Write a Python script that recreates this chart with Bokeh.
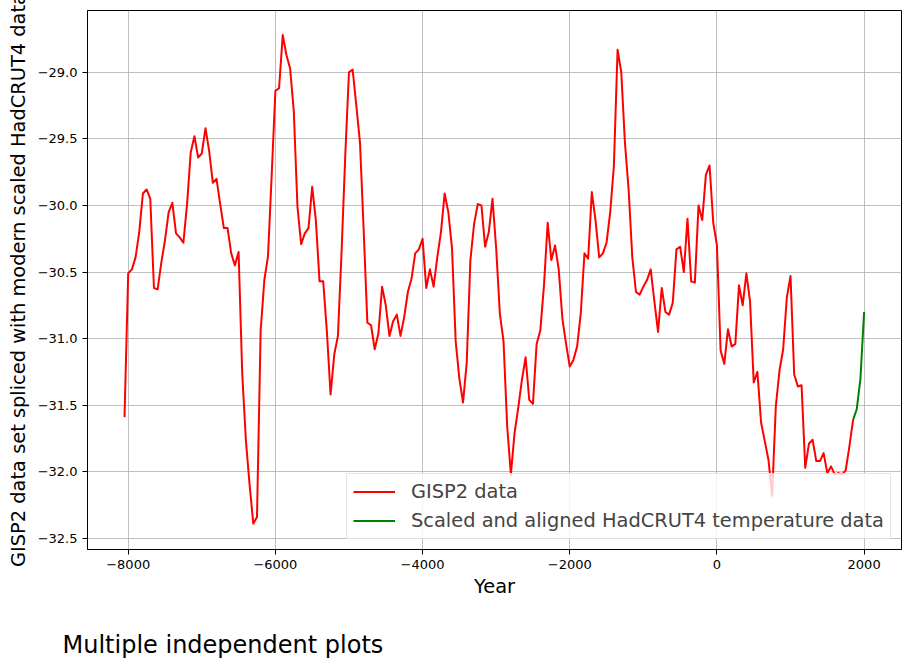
from bokeh.plotting import figure
from bokeh.models import (Range1d, FixedTicker, CustomJSTickFormatter, Legend,
                          LegendItem, Label)
from bokeh.embed import file_html
from bokeh.resources import INLINE

# ---------------- data ----------------
gisp2_years = [
    -8050, -8000, -7950, -7900, -7850, -7800, -7750, -7700, -7650, -7600,
    -7550, -7500, -7450, -7400, -7350, -7300, -7250, -7200, -7150, -7100,
    -7050, -7000, -6950, -6900, -6850, -6800, -6750, -6700, -6650, -6600,
    -6550, -6500, -6450, -6400, -6350, -6300, -6250, -6200, -6150, -6100,
    -6050, -6000, -5950, -5900, -5850, -5800, -5750, -5700, -5650, -5600,
    -5550, -5500, -5450, -5400, -5350, -5300, -5250, -5200, -5150, -5100,
    -5050, -5000, -4950, -4900, -4850, -4800, -4750, -4700, -4650, -4600,
    -4550, -4500, -4450, -4400, -4350, -4300, -4250, -4200, -4150, -4100,
    -4050, -4000, -3950, -3900, -3850, -3800, -3750, -3700, -3650, -3600,
    -3550, -3500, -3450, -3400, -3350, -3300, -3250, -3200, -3150, -3100,
    -3050, -3000, -2950, -2900, -2850, -2800, -2750, -2700, -2650, -2600,
    -2550, -2500, -2450, -2400, -2350, -2300, -2250, -2200, -2150, -2100,
    -2050, -2000, -1950, -1900, -1850, -1800, -1750, -1700, -1650, -1600,
    -1550, -1500, -1450, -1400, -1350, -1300, -1250, -1200, -1150, -1100,
    -1050, -1000, -950, -900, -850, -800, -750, -700, -650, -600,
    -550, -500, -450, -400, -350, -300, -250, -200, -150, -100,
    -50, 0, 50, 100, 150, 200, 250, 300, 350, 400,
    450, 500, 550, 600, 650, 700, 750, 800, 850, 900,
    950, 1000, 1050, 1100, 1150, 1200, 1250, 1300, 1350, 1400,
    1450, 1500, 1550, 1600, 1650, 1700, 1750, 1800, 1850,
]
gisp2_temps = [
    -31.59, -30.51, -30.48, -30.39, -30.20, -29.91, -29.88, -29.95, -30.62, -30.63,
    -30.43, -30.26, -30.05, -29.98, -30.21, -30.24, -30.28, -29.99, -29.60, -29.48,
    -29.64, -29.61, -29.42, -29.59, -29.83, -29.80, -29.99, -30.17, -30.17, -30.36,
    -30.45, -30.35, -31.27, -31.77, -32.10, -32.39, -32.34, -30.94, -30.56, -30.38,
    -29.77, -29.14, -29.12, -28.72, -28.87, -28.97, -29.29, -30.01, -30.29, -30.21,
    -30.17, -29.86, -30.11, -30.57, -30.57, -30.95, -31.42, -31.12, -30.98, -30.34,
    -29.62, -29.00, -28.98, -29.25, -29.53, -30.19, -30.88, -30.90, -31.08, -30.96,
    -30.61, -30.75, -30.98, -30.87, -30.82, -30.98, -30.84, -30.65, -30.55, -30.36,
    -30.33, -30.25, -30.62, -30.48, -30.61, -30.39, -30.20, -29.91, -30.05, -30.32,
    -31.02, -31.30, -31.48, -31.18, -30.41, -30.14, -29.99, -30.00, -30.31, -30.20,
    -29.95, -30.32, -30.81, -31.02, -31.66, -32.02, -31.71, -31.52, -31.31, -31.14,
    -31.46, -31.49, -31.04, -30.94, -30.60, -30.13, -30.41, -30.30, -30.48, -30.85,
    -31.04, -31.21, -31.16, -31.06, -30.81, -30.36, -30.40, -29.90, -30.11, -30.39,
    -30.36, -30.28, -30.05, -29.70, -28.83, -29.00, -29.53, -29.88, -30.39, -30.65,
    -30.67, -30.61, -30.56, -30.48, -30.72, -30.95, -30.62, -30.80, -30.82, -30.73,
    -30.33, -30.31, -30.50, -30.10, -30.57, -30.58, -30.00, -30.11, -29.77, -29.70,
    -30.13, -30.30, -31.09, -31.19, -30.93, -31.06, -31.04, -30.60, -30.75, -30.51,
    -30.72, -31.33, -31.25, -31.63, -31.77, -31.91, -32.18, -31.51, -31.24, -31.08,
    -30.69, -30.53, -31.27, -31.36, -31.35, -31.97, -31.79, -31.76, -31.92, -31.92,
    -31.86, -32.01, -31.96, -32.02, -32.01, -32.02, -31.99, -31.81, -31.61,
]
hadcrut_years = [1850, 1900, 1950, 2000]
hadcrut_temps = [-31.61, -31.53, -31.30, -30.80]

series_labels = ["GISP2 data", "Scaled and aligned HadCRUT4 temperature data"]
x_ticks = [-8000, -6000, -4000, -2000, 0, 2000]
y_ticks = [-32.5, -32.0, -31.5, -31.0, -30.5, -30.0, -29.5, -29.0]
x_label = "Year"
y_label = "GISP2 data set spliced with modern scaled HadCRUT4 data"
title_text = "Multiple independent plots"

FONT = "DejaVu Sans"

# ---------------- figure ----------------
p = figure(width=908, height=665, output_backend="svg", toolbar_location=None,
           x_range=Range1d(-8553, 2508), y_range=Range1d(-32.584, -28.536),
           min_border_left=87, min_border_right=7, min_border_top=10,
           min_border_bottom=116)
p.background_fill_color = "white"
p.border_fill_color = "white"
p.outline_line_color = "black"
p.outline_line_width = 1

r1 = p.line(gisp2_years, gisp2_temps, line_color="#ff0000", line_width=2,
            line_join="round")
r2 = p.line(hadcrut_years, hadcrut_temps, line_color="#008000", line_width=2,
            line_join="round")

xt = FixedTicker(ticks=x_ticks)
yt = FixedTicker(ticks=y_ticks)
p.xaxis[0].ticker = xt
p.yaxis[0].ticker = yt
p.xgrid[0].ticker = xt
p.ygrid[0].ticker = yt
p.xaxis[0].formatter = CustomJSTickFormatter(
    code="return (tick < 0 ? '\u2212' : '') + Math.abs(tick).toFixed(0);")
p.yaxis[0].formatter = CustomJSTickFormatter(
    code="return (tick < 0 ? '\u2212' : '') + Math.abs(tick).toFixed(1);")

for g in (p.xgrid[0], p.ygrid[0]):
    g.grid_line_color = "#b0b0b0"
    g.grid_line_width = 0.8

for ax in (p.xaxis[0], p.yaxis[0]):
    ax.major_label_text_font = FONT
    ax.major_label_text_font_size = "13px"
    ax.major_label_text_color = "black"
    ax.axis_label_text_font = FONT
    ax.axis_label_text_font_size = "19.4px"
    ax.axis_label_text_font_style = "normal"
    ax.axis_label_text_color = "black"
    ax.major_tick_out = 5
    ax.major_tick_in = 0
    ax.minor_tick_out = 0
    ax.minor_tick_in = 0
    ax.major_tick_line_color = "black"
    ax.axis_line_color = "black"
    ax.major_label_standoff = 5

p.xaxis[0].axis_label = x_label
p.xaxis[0].axis_label_standoff = 3
p.yaxis[0].axis_label = y_label
p.yaxis[0].axis_label_standoff = 5

legend = Legend(
    items=[LegendItem(label=series_labels[0], renderers=[r1]),
           LegendItem(label=series_labels[1], renderers=[r2])],
    location="bottom_right", margin=10, padding=6, spacing=6,
    glyph_width=42, glyph_height=23, label_height=23, label_standoff=16,
    label_text_font=FONT, label_text_font_size="19.4px",
    border_line_color="#cccccc", border_line_width=1,
    background_fill_color="white", background_fill_alpha=0.8)
p.add_layout(legend)

# figure caption under the x axis (in the below panel, screen units)
title = Label(x=-25, y=-16, x_units="screen", y_units="screen",
              text=title_text, text_font=FONT, text_font_size="24px",
              text_color="black", text_align="left", text_baseline="middle")
p.add_layout(title, "below")

with open("out.html", "w") as f:
    f.write(file_html(p, INLINE))
